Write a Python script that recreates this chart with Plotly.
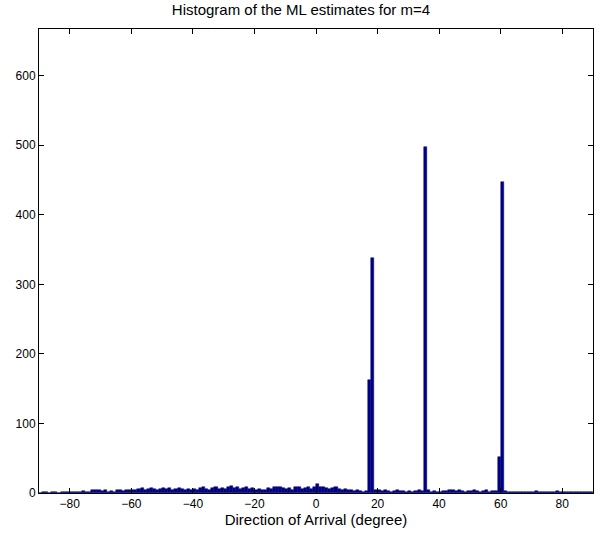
import plotly.graph_objects as go

# bin centers (1-degree bins from -90 to 90)
bin_centers = [-89.5 + i for i in range(180)]
counts = (
    [0, 1, 1, 0, 1, 1, 0, 2, 1, 1] +
    [2, 1, 1, 2, 3, 2, 2, 4, 5, 4] +
    [3, 4, 2, 3, 2, 4, 5, 3, 4, 5] +
    [4, 5, 6, 7, 5, 6, 7, 6, 5, 6] +
    [7, 6, 7, 5, 6, 7, 6, 5, 6, 5] +
    [6, 5, 7, 8, 6, 5, 7, 8, 6, 7] +
    [6, 8, 10, 7, 8, 6, 7, 8, 6, 7] +
    [5, 6, 4, 5, 7, 6, 8, 9, 8, 7] +
    [6, 7, 5, 8, 9, 6, 7, 8, 6, 9] +
    [13, 8, 9, 7, 6, 7, 8, 6, 5, 6] +
    [5, 4, 3, 4, 3, 2, 3, 163, 338, 5] +
    [4, 3, 4, 3, 2, 3, 4, 3, 3, 2] +
    [3, 2, 3, 4, 3, 498, 4, 2, 3, 2] +
    [2, 3, 3, 4, 5, 3, 4, 3, 2, 3] +
    [3, 4, 3, 2, 3, 4, 2, 3, 3, 52] +
    [447, 3, 2, 1, 2, 1, 1, 2, 1, 2] +
    [1, 3, 2, 1, 2, 1, 1, 2, 3, 2] +
    [1, 2, 1, 1, 2, 1, 1, 1, 2, 1]
)
x_ticks = [-80, -60, -40, -20, 0, 20, 40, 60, 80]
y_ticks = [0, 100, 200, 300, 400, 500, 600]

fig = go.Figure(go.Bar(
    x=bin_centers, y=counts, width=1.0,
    marker=dict(color="#000080", line=dict(color="#000080", width=0.5)),
))

font = dict(family="Liberation Sans, Arial, sans-serif", size=12, color="black")
fig.update_layout(
    width=602, height=533,
    margin=dict(l=39, r=8, t=29, b=38),
    paper_bgcolor="white", plot_bgcolor="white",
    bargap=0, showlegend=False, font=font,
    title=dict(text="Histogram of the ML estimates for m=4", x=0.5, xanchor="center",
               y=1 - 10 / 533, yanchor="middle", font=dict(size=15)),
)
fig.update_xaxes(
    range=[-90, 90], tickvals=x_ticks, ticks="inside", ticklen=5, tickcolor="black",
    showline=True, linecolor="black", linewidth=1, mirror="ticks", showgrid=False,
    zeroline=False,
    title=dict(text="Direction of Arrival (degree)", standoff=3, font=dict(size=15)),
)
fig.update_yaxes(
    range=[0, 667], tickvals=y_ticks, ticks="inside", ticklen=5, tickcolor="black",
    showline=True, linecolor="black", linewidth=1, mirror="ticks", showgrid=False,
    zeroline=False,
)
fig.write_html("out.html", config={"displayModeBar": False},
               post_script="document.body.style.margin='0';")
